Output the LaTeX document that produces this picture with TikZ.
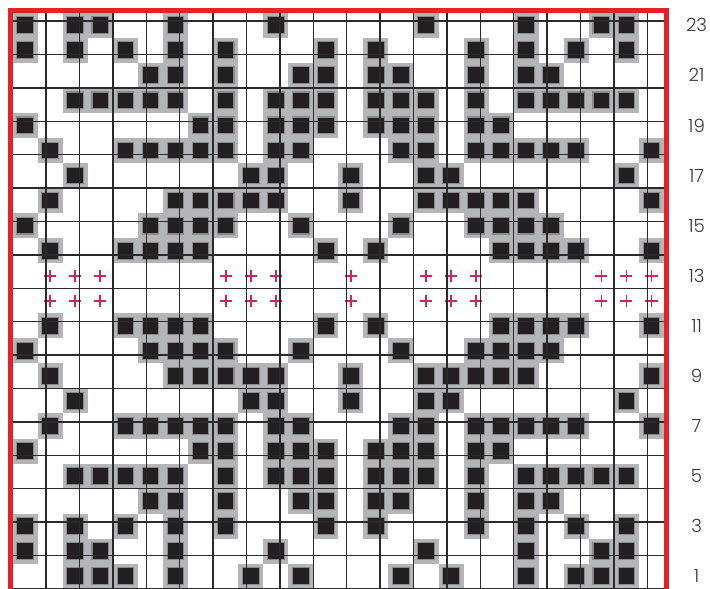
\documentclass[tikz,border=0pt]{standalone}
\usepackage{tikz}
\usepackage{xcolor}
\usepackage{fontspec}
\newfontfamily\rowfont{Poppins Light}
\usetikzlibrary{positioning,calc,backgrounds}
\definecolor{chartred}{HTML}{E8202A}
\definecolor{plusred}{HTML}{D6245A}
\definecolor{cellgrey}{HTML}{B4B5B8}
\definecolor{ringgrey}{HTML}{8A8A8D}
\definecolor{stitch}{HTML}{231F20}
\definecolor{gridline}{HTML}{2A2A2A}
\definecolor{labelgrey}{HTML}{3A3A3A}

\begin{document}
\begin{tikzpicture}[x=0.75cm, y=0.75cm,
    cellbg/.style={fill=cellgrey},
    stitchbox/.style={fill=stitch, draw=ringgrey, line width=0.9pt},
    gridlines/.style={draw=gridline, line width=1.2pt},
    plusmark/.style={draw=plusred, line width=1.5pt},
    rowlabel/.style={text=labelgrey, font=\rowfont\fontsize{15.5}{15.5}\selectfont,
      inner sep=0pt, anchor=center}]
  \useasboundingbox (-0.507,0.034) rectangle (27.836,23.507);

  % contrast stitches, row by row (row 1 at the bottom)
  \foreach \r/\cols in {
      23/{1,3,4,7,11,17,21,24,25},
      22/{1,3,5,7,9,13,15,19,21,23,25},
      21/{6,7,9,12,13,15,16,19,21,22},
      20/{3,4,5,6,7,9,11,12,13,15,16,17,19,21,22,23,24,25},
      19/{1,8,9,11,12,13,15,16,17,19,20},
      18/{2,5,6,7,8,9,11,12,16,17,19,20,21,22,23,26},
      17/{3,10,11,14,17,18,25},
      16/{2,7,8,9,10,11,14,17,18,19,20,21,26},
      15/{1,6,7,8,9,12,16,19,20,21,22},
      14/{2,5,6,7,8,13,15,20,21,22,23,26},
      11/{2,5,6,7,8,13,15,20,21,22,23,26},
      10/{1,6,7,8,9,12,16,19,20,21,22},
      9/{2,7,8,9,10,11,14,17,18,19,20,21,26},
      8/{3,10,11,14,17,18,25},
      7/{2,5,6,7,8,9,11,12,16,17,19,20,21,22,23,26},
      6/{1,8,9,11,12,13,15,16,17,19,20},
      5/{3,4,5,6,7,9,11,12,13,15,16,17,19,21,22,23,24,25},
      4/{6,7,9,12,13,15,16,19,21,22},
      3/{1,3,5,7,9,13,15,19,21,23,25},
      2/{1,3,4,7,11,17,21,24,25},
      1/{3,4,5,7,10,12,16,18,21,23,24,25}} {
    \foreach \c in \cols {
      \fill[cellbg] (\c-1,\r-1) rectangle (\c,\r);
      \filldraw[stitchbox] (\c-0.835,\r-0.835) rectangle (\c-0.165,\r-0.165);
    }
  }

  % plus stitches in rows 12 and 13
  \foreach \r in {12,13} {
    \foreach \c in {2,3,4,9,10,11,14,17,18,19,24,25,26} {
      \draw[plusmark] (\c-0.74,\r-0.5) -- (\c-0.26,\r-0.5)
                      (\c-0.5,\r-0.74) -- (\c-0.5,\r-0.26);
    }
  }

  \draw[gridlines] (0,0) grid (26,23);
  \draw[chartred, line width=3.8pt] (-0.092,-0.092) rectangle (26.092,23.092);

  % row numbers
  \foreach \r in {1,3,...,23}
    \node[rowlabel] (row\r) at (27.30,\r-0.5) {\r};
\end{tikzpicture}
\end{document}
